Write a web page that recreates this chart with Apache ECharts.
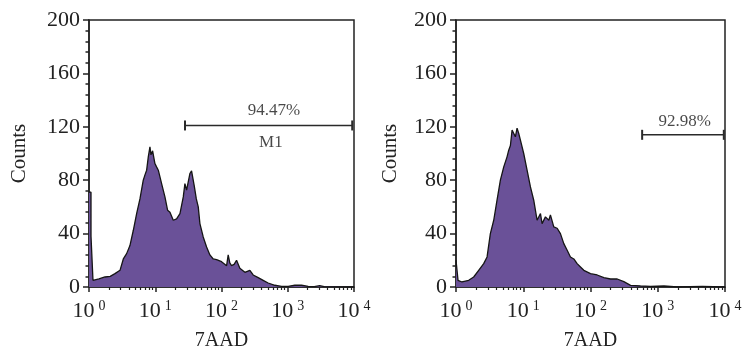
<!DOCTYPE html>
<html>
<head>
<meta charset="utf-8">
<script src="https://cdn.jsdelivr.net/npm/echarts@6/dist/echarts.min.js"></script>
<style>
html,body{margin:0;padding:0;background:#fff;}
#c{width:754px;height:351px;}
</style>
</head>
<body>
<div id="c"></div>
<script>
// ---- data ----
const xExponents = ['0', '1', '2', '3', '4'];
const yName = 'Counts';
const xName = '7AAD';

const leftX = [1.00, 1.072, 1.072, 1.135, 1.148, 1.413, 1.742, 2.089, 2.466, 2.938, 3.296, 3.698, 4.150, 4.667, 5.236, 5.875, 6.592, 6.998, 7.413, 7.852, 8.318, 8.610, 8.810, 9.120, 9.333, 9.886, 10.47, 11.12, 12.47, 14.00, 15.35, 16.67, 18.71, 20.99, 23.60, 26.49, 28.05, 29.72, 33.34, 35.32, 38.73, 41.69, 44.57, 47.21, 52.97, 59.57, 66.83, 74.99, 84.33, 100.2, 119.4, 126.2, 133.4, 141.9, 154.9, 168.7, 189.2, 225.4, 267.9, 300.6, 358.1, 425.6, 505.8, 638.3, 807.2, 1014, 1279, 1614, 2032, 2512, 3034, 3548, 10000];
const leftCounts = [71, 71, 38, 38, 5, 6, 7.5, 8, 10, 12.5, 21, 25, 31, 42.5, 55, 66, 80, 84, 87.5, 97.5, 105, 99, 100, 102, 101, 92.5, 90, 87.5, 77.5, 67.5, 57.5, 56, 50, 51, 55, 67.5, 77.5, 72.5, 85, 87, 76, 66, 60, 47.5, 37.5, 30, 24, 21, 20.5, 19, 16, 24, 18, 16, 17, 20, 14, 11, 12.5, 9, 7, 5, 3, 1.3, 0.5, 0.5, 1.3, 1.3, 0.5, 0.3, 1, 0.3, 0];

const rightX = [1.00, 1.047, 1.072, 1.227, 1.545, 1.832, 2.173, 2.582, 2.897, 3.243, 3.639, 4.074, 4.571, 5.129, 5.741, 6.081, 6.442, 6.823, 7.228, 7.638, 8.091, 8.570, 9.078, 10.16, 11.40, 12.79, 14.32, 16.07, 18.03, 19.05, 21.38, 23.99, 25.35, 28.44, 31.92, 35.73, 40.09, 44.98, 50.35, 56.49, 63.24, 70.96, 79.62, 100, 125.6, 158.1, 198.6, 249.5, 313.3, 394.5, 554.6, 781.6, 1236, 1950, 4603, 9660, 10000];
const rightCounts = [20, 20, 5, 3.75, 5, 7.5, 12.5, 17.5, 22.5, 40, 50, 65, 80, 90, 97.5, 102.5, 106, 117.5, 115, 112.5, 119, 115, 110, 100, 87.5, 75, 65, 50, 55, 47.5, 52.5, 50, 54, 45, 44, 40, 32.5, 27.5, 22.5, 21, 17.5, 15, 12.5, 10, 9, 7, 6, 6, 4, 1.25, 0.75, 0.5, 0.75, 0, 0.5, 0, 0];

const leftGateX = [28.1, 9400];
const leftGateY = 121;
const leftGateLabel = '94.47%';
const leftGateName = 'M1';
const rightGateX = [586, 9600];
const rightGateY = 114;
const rightGateLabel = '92.98%';

// ---- chart ----
const FONT = 'Liberation Serif';
const INK = '#222';
const FILL = '#6a5198';

function pairs(xs, ys) { return xs.map((x, i) => [x, ys[i]]); }

function xAxisFor(gridIndex) {
  return {
    gridIndex, type: 'log', logBase: 10, min: 1, max: 10000,
    name: xName, nameLocation: 'middle', nameGap: 44,
    nameTextStyle: { fontFamily: FONT, fontSize: 20, color: INK },
    axisLine: { show: true, lineStyle: { color: INK, width: 1.5 } },
    axisTick: { show: true, length: 5, lineStyle: { color: INK, width: 1.5 } },
    minorTick: { show: true, splitNumber: 9, length: 3, lineStyle: { color: INK, width: 1.2 } },
    splitLine: { show: false },
    axisLabel: {
      margin: 12,
      formatter: function (v) {
        const i = Math.round(Math.log(v) / Math.LN10);
        return '{b|10}{s|' + xExponents[i] + '}';
      },
      rich: {
        b: { fontFamily: FONT, fontSize: 22, color: INK, lineHeight: 24 },
        s: { fontFamily: FONT, fontSize: 14, color: INK, verticalAlign: 'top', lineHeight: 16, padding: [0, 0, 0, 4] }
      }
    }
  };
}
function yAxisFor(gridIndex, gap) {
  return {
    gridIndex, type: 'value', min: 0, max: 200, interval: 40,
    name: yName, nameLocation: 'middle', nameGap: gap,
    nameTextStyle: { fontFamily: FONT, fontSize: 21, color: INK },
    axisLine: { show: true, lineStyle: { color: INK, width: 1.5 } },
    axisTick: { show: true, length: 6, lineStyle: { color: INK, width: 1.5 } },
    minorTick: { show: true, splitNumber: 5, length: 3.5, lineStyle: { color: INK, width: 1.5 } },
    splitLine: { show: false },
    axisLabel: { margin: 9, fontFamily: FONT, fontSize: 22, color: INK }
  };
}
function histSeries(idx, data) {
  return {
    type: 'line', xAxisIndex: idx, yAxisIndex: idx, data,
    showSymbol: false, symbol: 'none', smooth: false,
    lineStyle: { color: '#151515', width: 1.3 },
    areaStyle: { color: FILL, opacity: 1 },
    z: 2
  };
}
function gateSeries(idx, xs, y) {
  return {
    type: 'line', xAxisIndex: idx, yAxisIndex: idx,
    data: [[xs[0], y], [xs[1], y]],
    symbol: 'rect', symbolSize: [2, 10], showSymbol: true,
    itemStyle: { color: '#2a2a2a' },
    lineStyle: { color: '#2a2a2a', width: 1.5 },
    z: 3
  };
}
function textSeries(idx, items) {
  return {
    type: 'scatter', xAxisIndex: idx, yAxisIndex: idx,
    symbolSize: 2, itemStyle: { color: 'rgba(0,0,0,0)' },
    data: items.map(it => ({ value: [it[0], it[1]], label: { show: true, formatter: it[2] } })),
    label: { show: true, position: 'inside', fontFamily: FONT, fontSize: 17, color: '#1a1a1a' },
    z: 4
  };
}

const gridBase = { top: 20, height: 267, show: true, borderColor: INK, borderWidth: 1.5, backgroundColor: 'transparent', containLabel: false, outerBoundsMode: 'none' };

const chart = echarts.init(document.getElementById('c'), null, { renderer: 'canvas' });
chart.setOption({
  animation: false,
  backgroundColor: '#fff',
  grid: [
    Object.assign({ left: 89, width: 265 }, gridBase),
    Object.assign({ left: 456, width: 269 }, gridBase)
  ],
  xAxis: [xAxisFor(0), xAxisFor(1)],
  yAxis: [yAxisFor(0, 59), yAxisFor(1, 55)],
  series: [
    histSeries(0, pairs(leftX, leftCounts)),
    histSeries(1, pairs(rightX, rightCounts)),
    gateSeries(0, leftGateX, leftGateY),
    gateSeries(1, rightGateX, rightGateY),
    textSeries(0, [[617, 132.5, leftGateLabel], [556, 108.5, leftGateName]]),
    textSeries(1, [[2512, 124.3, rightGateLabel]])
  ]
});
</script>
</body>
</html>
